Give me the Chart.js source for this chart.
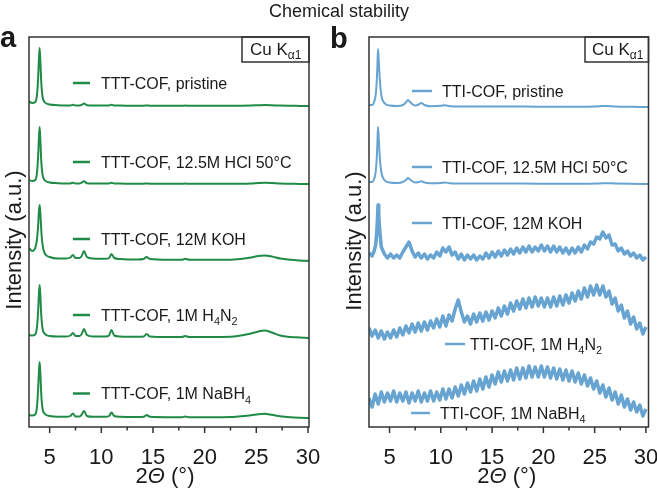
<!DOCTYPE html>
<html>
<head>
<meta charset="utf-8">
<script src="https://cdn.jsdelivr.net/npm/chart.js@4.4.1/dist/chart.umd.min.js"></script>
<style>
  body { margin: 0; background: #fff; }
  #wrap { position: relative; width: 657px; height: 488px; font-family: 'Liberation Sans', Arial, sans-serif; color: #1a1a1a; }
  .txt { position: absolute; line-height: 1; white-space: nowrap; }
  canvas { position: absolute; top: 0; }
</style>
</head>
<body>
<div id="wrap">
  <canvas id="chartA" width="334" height="488" style="left:0"></canvas>
  <canvas id="chartB" width="323" height="488" style="left:334px"></canvas>
  <div class="txt" style="left:339px;top:2px;font-size:18px;transform:translateX(-50%)">Chemical stability</div>
  <div class="txt" style="left:0;top:23px;font-size:29px;font-weight:bold">a</div>
  <div class="txt" style="left:330px;top:24px;font-size:29px;font-weight:bold">b</div>
</div>
<script>
// --- axis ---
const majorTicks = [5, 10, 15, 20, 25, 30];
const minorTicks = [7.5, 12.5, 17.5, 22.5, 27.5];

// --- panel a : TTT-COF (smooth scans) ---
const labelsTTT = ['TTT-COF, pristine', 'TTT-COF, 12.5M HCl 50°C', 'TTT-COF, 12M KOH', 'TTT-COF, 1M H₄N₂', 'TTT-COF, 1M NaBH₄'];
const thetaTTT = [3.0, 3.3, 3.6, 3.75, 3.88, 3.96, 4.03, 4.1, 4.18, 4.3, 4.5, 5.0, 5.8, 6.6, 7.0, 7.25, 7.5, 7.9, 8.1, 8.33, 8.6, 9.2, 10.4, 10.75, 10.98, 11.25, 11.8, 13.5, 14.1, 14.38, 14.7, 16.5, 17.8, 18.1, 18.5, 20.5, 22.5, 23.5, 24.5, 25.2, 25.8, 26.5, 27.3, 28.3, 29.2, 30.1];
const tttPristine = [4.5, 3, 4, 9, 27, 47, 58, 45, 25, 10, 4, 1.5, 0.8, 0.5, 0.6, 1.2, 0.5, 0.6, 1.2, 2.5, 0.8, 0.5, 0.5, 0.6, 1.2, 0.5, 0.4, 0.3, 0.3, 0.5, 0.3, 0.2, 0.2, 0.4, 0.2, 0.2, 0.2, 0.3, 0.5, 0.8, 1.0, 0.8, 0.4, 0.2, 0.1, 0];
const tttHCl = [4, 3, 4, 9, 27, 46, 57, 44, 24, 10, 4, 1.5, 0.8, 0.5, 0.6, 1.3, 0.5, 0.6, 1.3, 2.8, 0.8, 0.5, 0.5, 0.6, 1.3, 0.5, 0.4, 0.3, 0.3, 0.6, 0.3, 0.2, 0.2, 0.4, 0.2, 0.2, 0.2, 0.3, 0.6, 1.0, 1.2, 1.0, 0.5, 0.3, 0.1, 0];
const tttKOH = [13, 10, 13, 20, 35, 50, 56, 48, 32, 17, 8, 4, 2.5, 2.5, 3.5, 6, 3, 3, 5, 10, 4, 2.5, 2.2, 3, 7, 3, 2, 1.5, 2, 4, 2, 1.2, 1.2, 2.2, 1.2, 1.2, 1.2, 2, 3.5, 5, 5.5, 4.5, 2.5, 1.2, 0.5, 0];
const tttH4N2 = [3, 2.5, 3.5, 9, 26, 44, 53, 42, 24, 10, 4.5, 2, 1.5, 1.5, 2.5, 5, 2, 2, 4, 9, 3, 1.5, 1.5, 2.5, 8, 2.5, 1.5, 1.2, 1.5, 4, 1.5, 1, 1, 2, 1, 1, 1.2, 2.5, 4.5, 6.5, 7.5, 5.5, 2.5, 1, 0.5, 0];
const tttNaBH4 = [3, 2.5, 3.5, 9, 28, 46, 56, 45, 25, 10, 4.5, 2, 1.2, 1.2, 2, 4.5, 1.5, 1.5, 3.5, 7, 2, 1.2, 1.2, 2, 5.5, 2, 1.2, 1, 1.2, 3, 1.2, 0.8, 0.8, 1.5, 0.8, 0.8, 1, 1.8, 2.8, 3.8, 4.2, 3.2, 1.8, 0.8, 0.3, 0];
const offsetsTTT = [321, 243, 166, 89, 9];

// --- panel b : TTI-COF ---
const labelsTTI = ['TTI-COF, pristine', 'TTI-COF, 12.5M HCl 50°C', 'TTI-COF, 12M KOH', 'TTI-COF, 1M H₄N₂', 'TTI-COF, 1M NaBH₄'];
const thetaTTI = [3.0, 3.3, 3.5, 3.65, 3.75, 3.82, 3.88, 3.95, 4.05, 4.2, 4.5, 5.0, 5.8, 6.3, 6.6, 6.8, 7.05, 7.5, 7.85, 8.1, 8.4, 9.0, 10.0, 10.4, 10.9, 12, 15, 18, 21, 24, 25.5, 26.2, 27, 28.5, 30.25];
const ttiPristine = [2, 2, 5, 12, 25, 42, 58, 47, 28, 12, 4, 1.5, 1, 2, 4.5, 7, 4.5, 1.5, 2.5, 4, 2, 0.8, 1.2, 1.8, 0.8, 0.5, 0.4, 0.4, 0.3, 0.3, 0.8, 1, 0.5, 0.2, 0];
const ttiHCl = [2, 2, 5, 12, 25, 42, 57, 46, 27, 12, 4, 1.5, 1, 2, 4, 6, 4, 1.5, 2, 2.8, 1.5, 0.8, 1, 1.5, 0.8, 0.5, 0.4, 0.4, 0.3, 0.3, 0.6, 0.8, 0.5, 0.2, 0];

// noisy scans (0.3° steps)
const thetaKOH = [3.0, 3.3, 3.5, 3.65, 3.75, 3.82, 3.88, 3.95, 4.05, 4.2,
  4.5, 4.8, 5.1, 5.4, 5.7, 6.0, 6.3, 6.6, 6.9, 7.2, 7.5, 7.8, 8.1, 8.4, 8.7, 9.0, 9.3, 9.6, 9.9, 10.2,
  10.5, 10.8, 11.1, 11.4, 11.7, 12.0, 12.3, 12.6, 12.9, 13.2, 13.5, 13.8, 14.1, 14.4, 14.7, 15.0, 15.3, 15.6, 15.9, 16.2,
  16.5, 16.8, 17.1, 17.4, 17.7, 18.0, 18.3, 18.6, 18.9, 19.2, 19.5, 19.8, 20.1, 20.4, 20.7, 21.0, 21.3, 21.6, 21.9, 22.2,
  22.5, 22.8, 23.1, 23.4, 23.7, 24.0, 24.3, 24.6, 24.9, 25.2, 25.5, 25.8, 26.1, 26.4, 26.7, 27.0, 27.3, 27.6, 27.9, 28.2,
  28.5, 28.8, 29.1, 29.4, 29.7, 30.0];
const ttiKOH = [6, 3, 8, 14, 26, 40, 54, 45, 28, 12,
  5, 1, 5, 1, 4, 1, 7, 12, 17, 8, 2, 6, 1, 5, 0, 4, 1, 7, 3, 11,
  7, 12, 4, 7, 0, 5, -1, 4, 0, 4, -1, 3, 0, 6, 1, 7, 2, 8, 3, 9,
  4, 10, 5, 11, 6, 12, 7, 13, 7, 12, 8, 14, 8, 13, 7, 13, 7, 12, 6, 11,
  5, 11, 6, 12, 7, 14, 10, 17, 15, 22, 20, 27, 21, 24, 14, 15, 8, 11, 5, 8,
  3, 6, 1, 4, -1, 2];
const thetaNoisy = [3.0, 3.3, 3.6, 3.9, 4.2, 4.5, 4.8, 5.1, 5.4, 5.7,
  6.0, 6.3, 6.6, 6.9, 7.2, 7.5, 7.8, 8.1, 8.4, 8.7,
  9.0, 9.3, 9.6, 9.9, 10.2, 10.5, 10.8, 11.1, 11.4, 11.7,
  12.0, 12.3, 12.6, 12.9, 13.2, 13.5, 13.8, 14.1, 14.4, 14.7,
  15.0, 15.3, 15.6, 15.9, 16.2, 16.5, 16.8, 17.1, 17.4, 17.7,
  18.0, 18.3, 18.6, 18.9, 19.2, 19.5, 19.8, 20.1, 20.4, 20.7,
  21.0, 21.3, 21.6, 21.9, 22.2, 22.5, 22.8, 23.1, 23.4, 23.7,
  24.0, 24.3, 24.6, 24.9, 25.2, 25.5, 25.8, 26.1, 26.4, 26.7,
  27.0, 27.3, 27.6, 27.9, 28.2, 28.5, 28.8, 29.1, 29.4, 29.7, 30.0];
const ttiH4N2 = [8, 0, 6, -2, 5, -3, 4, -2, 6, -1,
  8, 1, 10, 3, 12, 4, 13, 5, 14, 6,
  15, 8, 17, 9, 20, 10, 21, 15, 27, 36,
  24, 14, 20, 12, 22, 14, 23, 15, 24, 16,
  25, 18, 28, 20, 30, 22, 33, 25, 35, 27,
  37, 28, 38, 29, 39, 30, 38, 29, 38, 29,
  39, 30, 40, 31, 41, 33, 43, 35, 45, 37,
  48, 39, 50, 41, 51, 41, 50, 39, 45, 32,
  38, 25, 31, 18, 25, 12, 19, 7, 13, 2, 9];
const ttiNaBH4 = [14, 5, 18, 8, 20, 10, 19, 11, 21, 10,
  19, 11, 20, 9, 19, 11, 21, 10, 19, 11,
  21, 11, 20, 12, 23, 13, 23, 14, 25, 16,
  27, 18, 29, 20, 31, 21, 33, 23, 35, 25,
  37, 28, 40, 30, 41, 31, 42, 32, 44, 33,
  44, 34, 46, 35, 45, 35, 46, 35, 45, 34,
  44, 33, 43, 32, 42, 31, 41, 30, 39, 28,
  37, 26, 34, 23, 31, 19, 27, 15, 24, 12,
  20, 8, 17, 5, 13, 2, 10, 0, 7, -4, 3];
const offsetsTTI = [320, 243, 168, 91, 15];

const FONT = "'Liberation Sans', Arial, Helvetica, sans-serif";
const SUBS = '₀₁₂₃₄₅₆₇₈₉';
const GREEN = '#1f8b47';
const BLUE = '#68a4d2';
const INK = '#1a1a1a';

Chart.defaults.font.family = FONT;

// text with unicode subscript digits drawn smaller and lowered
function richText(ctx, text, x, y, size) {
  let cx = x;
  let run = '';
  const flush = () => {
    if (!run) return;
    ctx.font = `${size}px ${FONT}`;
    ctx.fillText(run, cx, y);
    cx += ctx.measureText(run).width;
    run = '';
  };
  for (const ch of text) {
    const k = SUBS.indexOf(ch);
    if (k < 0) { run += ch; continue; }
    flush();
    ctx.font = `${size * 0.68}px ${FONT}`;
    ctx.fillText(String(k), cx, y + size * 0.28);
    cx += ctx.measureText(String(k)).width;
  }
  flush();
}

const decor = {
  id: 'decor',
  afterDatasetsDraw(chart, args, o) {
    const { ctx, chartArea: a, scales: { x, y } } = chart;
    ctx.save();

    // frame
    ctx.strokeStyle = '#333';
    ctx.lineWidth = 1.5;
    ctx.strokeRect(a.left, a.top, a.right - a.left, a.bottom - a.top);

    // outward tick marks
    ctx.beginPath();
    majorTicks.forEach((v) => {
      const px = x.getPixelForValue(v);
      ctx.moveTo(px, a.bottom); ctx.lineTo(px, a.bottom + 6);
    });
    minorTicks.forEach((v) => {
      const px = x.getPixelForValue(v);
      ctx.moveTo(px, a.bottom); ctx.lineTo(px, a.bottom + 3.5);
    });
    ctx.stroke();

    // Cu Kα1 box
    const bx = a.right - o.boxW;
    ctx.strokeRect(bx, a.top, o.boxW, 25);
    ctx.fillStyle = INK;
    ctx.textBaseline = 'alphabetic';
    ctx.textAlign = 'left';
    ctx.font = `17px ${FONT}`;
    ctx.fillText('Cu K', bx + o.boxInset, a.top + 18);
    const kw = ctx.measureText('Cu K').width;
    ctx.font = `12px ${FONT}`;
    ctx.fillText('α1', bx + o.boxInset + kw, a.top + 22);

    // inline series labels
    chart.data.datasets.forEach((ds, i) => {
      const [x0, x1, tx, yv] = o.labels[i];
      const py = y.getPixelForValue(yv);
      ctx.strokeStyle = ds.borderColor;
      ctx.lineWidth = 2.5;
      ctx.beginPath();
      ctx.moveTo(x.getPixelForValue(x0), py);
      ctx.lineTo(x.getPixelForValue(x1), py);
      ctx.stroke();
      ctx.fillStyle = INK;
      richText(ctx, ds.label, x.getPixelForValue(tx), py + 5.7, 16);
    });

    // y title
    ctx.save();
    ctx.translate(o.yTitle[0], o.yTitle[1]);
    ctx.rotate(-Math.PI / 2);
    ctx.textAlign = 'center';
    ctx.textBaseline = 'middle';
    ctx.font = `22px ${FONT}`;
    ctx.fillText('Intensity (a.u.)', 0, 0);
    ctx.restore();

    // x title: 2Θ (°) with italic theta
    const parts = [['2', ''], ['Θ', 'italic '], [' (°)', '']];
    let total = 0;
    parts.forEach((p) => { ctx.font = `${p[1]}22px ${FONT}`; total += ctx.measureText(p[0]).width; });
    let cx = (a.left + a.right) / 2 + o.xTitleDx - total / 2;
    parts.forEach((p) => {
      ctx.font = `${p[1]}22px ${FONT}`;
      ctx.fillText(p[0], cx, a.bottom + 56);
      cx += ctx.measureText(p[0]).width;
    });

    ctx.restore();
  }
};

function makePanel(id, cfg) {
  return new Chart(document.getElementById(id), {
    type: 'line',
    data: {
      datasets: cfg.series.map((s, i) => ({
        label: cfg.labels[i],
        data: s.x.map((t, k) => ({ x: t, y: s.y[k] + cfg.offsets[i] })),
        borderColor: cfg.color,
        borderWidth: s.noisy ? 3.5 : 2,
        borderJoinStyle: 'round',
        pointRadius: 0,
        tension: 0,
        cubicInterpolationMode: s.noisy ? 'default' : 'monotone'
      }))
    },
    options: {
      responsive: false,
      animation: false,
      devicePixelRatio: 1,
      events: [],
      layout: { padding: cfg.padding },
      scales: {
        x: {
          type: 'linear',
          min: cfg.xMin,
          max: cfg.xMax,
          afterBuildTicks: (s) => { s.ticks = majorTicks.map((v) => ({ value: v })); },
          afterFit: (s) => { s.height = 61; s.paddingLeft = 0; s.paddingRight = 0; },
          grid: { display: false },
          border: { display: false },
          ticks: { font: { size: 22 }, color: INK, padding: 10, maxRotation: 0, autoSkip: false }
        },
        y: { display: false, min: 0, max: 390 }
      },
      plugins: {
        legend: { display: false },
        tooltip: { enabled: false },
        decor: cfg.decor
      }
    },
    plugins: [decor]
  });
}

makePanel('chartA', {
  color: GREEN,
  labels: labelsTTT,
  offsets: offsetsTTT,
  xMin: 3, xMax: 30.1,
  padding: { left: 29, top: 37, right: 25, bottom: 0 },
  series: [
    { x: thetaTTT, y: tttPristine },
    { x: thetaTTT, y: tttHCl },
    { x: thetaTTT, y: tttKOH },
    { x: thetaTTT, y: tttH4N2 },
    { x: thetaTTT, y: tttNaBH4 }
  ],
  decor: {
    boxW: 67, boxInset: 8,
    yTitle: [15, 240], xTitleDx: -4,
    labels: [[7.25, 8.9, 9.97, 344], [7.25, 8.9, 9.97, 265], [7.25, 8.9, 9.97, 188], [7.25, 8.9, 9.97, 112], [7.25, 8.9, 9.97, 33.5]]
  }
});

makePanel('chartB', {
  color: BLUE,
  labels: labelsTTI,
  offsets: offsetsTTI,
  xMin: 3, xMax: 30.25,
  padding: { left: 35, top: 37, right: 8.5, bottom: 0 },
  series: [
    { x: thetaTTI, y: ttiPristine },
    { x: thetaTTI, y: ttiHCl },
    { x: thetaKOH, y: ttiKOH, noisy: true },
    { x: thetaNoisy, y: ttiH4N2, noisy: true },
    { x: thetaNoisy, y: ttiNaBH4, noisy: true }
  ],
  decor: {
    boxW: 63.5, boxInset: 7,
    yTitle: [21, 241], xTitleDx: -2,
    labels: [[7.19, 9.14, 10.11, 336], [7.19, 9.14, 10.11, 260], [7.19, 9.14, 10.11, 204], [10.41, 12.36, 12.84, 83], [7.09, 8.95, 9.92, 14]]
  }
});
</script>
</body>
</html>
